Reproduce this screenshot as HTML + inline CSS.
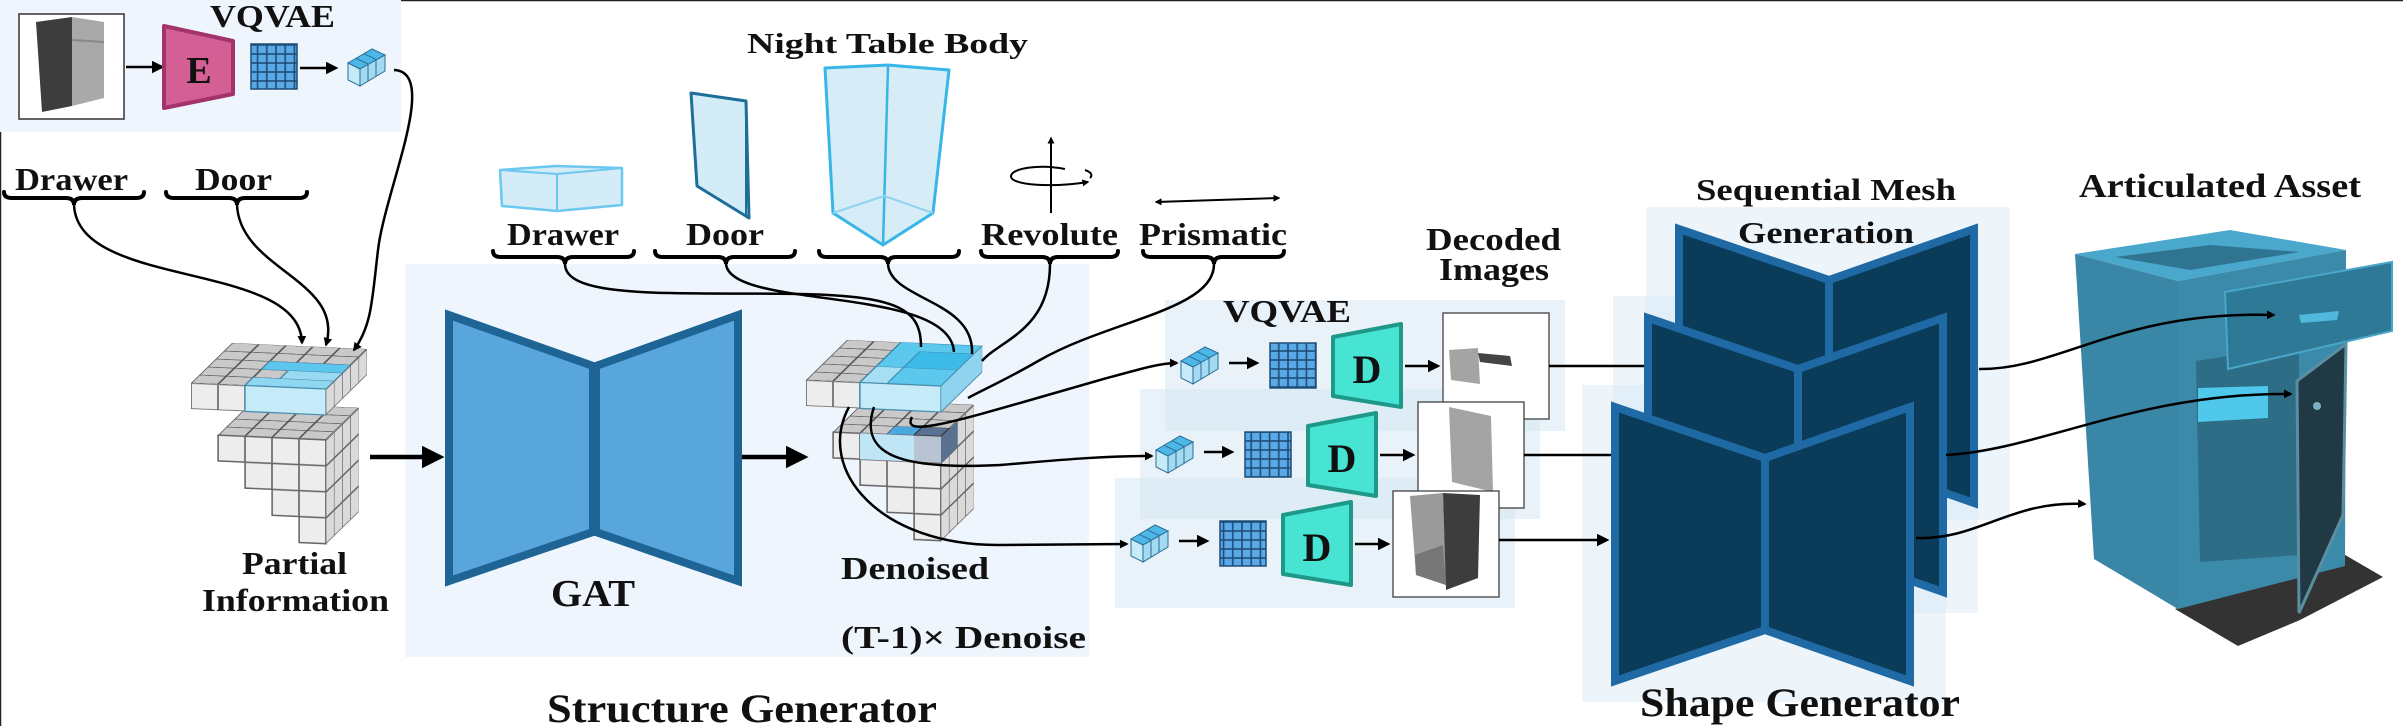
<!DOCTYPE html>
<html><head><meta charset="utf-8"><style>
html,body{margin:0;padding:0;background:#fff;}
svg{display:block;font-family:"Liberation Serif","DejaVu Serif",serif;}
svg text{font-family:"Liberation Serif","DejaVu Serif",serif;font-weight:bold;fill:#111;}
</style></head><body>
<svg width="2403" height="726" viewBox="0 0 2403 726" xmlns="http://www.w3.org/2000/svg" font-family="Liberation Serif, DejaVu Serif, serif" font-weight="bold">
<defs>
<marker id="ah" viewBox="0 0 10 10" refX="8" refY="5" markerWidth="5" markerHeight="5" orient="auto-start-reverse" markerUnits="strokeWidth"><path d="M0,0 L10,5 L0,10 z" fill="#000"/></marker>
<marker id="ah2" viewBox="0 0 10 10" refX="8" refY="5" markerWidth="3.5" markerHeight="3.5" orient="auto-start-reverse" markerUnits="strokeWidth"><path d="M0,0 L10,5 L0,10 z" fill="#000"/></marker>
<pattern id="gtop" width="1" height="1" patternUnits="userSpaceOnUse"><rect width="1" height="1" fill="#c9c9c9" stroke="#555" stroke-width="0.08"/></pattern>
<pattern id="gfront" width="1" height="1" patternUnits="userSpaceOnUse"><rect width="1" height="1" fill="#ededed" stroke="#666" stroke-width="0.06"/></pattern>
<pattern id="gside" width="1" height="1" patternUnits="userSpaceOnUse"><rect width="1" height="1" fill="#dadada" stroke="#666" stroke-width="0.08"/></pattern>
<pattern id="bgrid" width="9.2" height="9" patternUnits="userSpaceOnUse"><rect width="9.2" height="9" fill="#5aa9e6" stroke="#1d4d78" stroke-width="1.6"/></pattern>
<g id="token">
<polygon points="0,14 24,0 37,6 12,20" fill="#4db8e8" stroke="#2a6d96" stroke-width="1"/>
<polygon points="0,14 12,20 12,37 0,31" fill="#c6eaf7" stroke="#2a6d96" stroke-width="1"/>
<polygon points="12,20 37,6 37,22 12,37" fill="#a3daf1" stroke="#2a6d96" stroke-width="1"/>
<line x1="8" y1="9.3" x2="20" y2="15" stroke="#2a6d96" stroke-width="1"/>
<line x1="16" y1="4.7" x2="28" y2="10.4" stroke="#2a6d96" stroke-width="1"/>
<line x1="20" y1="15" x2="20" y2="32" stroke="#2a6d96" stroke-width="1"/>
<line x1="28" y1="10.4" x2="28" y2="27" stroke="#2a6d96" stroke-width="1"/>
</g>
</defs>

<line x1="0" y1="0.5" x2="2403" y2="0.5" stroke="#222" stroke-width="1.5"/>
<line x1="0.5" y1="0" x2="0.5" y2="726" stroke="#222" stroke-width="1.5"/>

<rect x="0" y="0" width="401" height="132" fill="#eef5fc"/>
<rect x="405" y="264" width="684" height="393" fill="#eef5fc"/>
<rect x="1165" y="300" width="400" height="131" fill="#d3e5f4" opacity="0.5"/>
<rect x="1140" y="389" width="400" height="130" fill="#d3e5f4" opacity="0.5"/>
<rect x="1115" y="478" width="400" height="130" fill="#d3e5f4" opacity="0.5"/>
<rect x="1646" y="207" width="364" height="313" fill="#d3e5f4" opacity="0.4"/>
<rect x="1613" y="296" width="365" height="317" fill="#d3e5f4" opacity="0.4"/>
<rect x="1582" y="385" width="364" height="317" fill="#d3e5f4" opacity="0.4"/>

<text x="210" y="27" font-size="32" textLength="125" lengthAdjust="spacingAndGlyphs">VQVAE</text>
<rect x="19" y="14" width="105" height="105" fill="#fff" stroke="#333" stroke-width="1.5"/>
<polygon points="36,22 72,17 72,106 42,112" fill="#3d3d3d"/>
<polygon points="72,17 104,22 104,98 72,106" fill="#a9a9a9"/>
<line x1="72" y1="40" x2="104" y2="42" stroke="#888" stroke-width="2"/>
<line x1="126" y1="67" x2="162" y2="67" stroke="#000" stroke-width="2.5" marker-end="url(#ah)"/>
<polygon points="164,26 233,41 233,94 164,108" fill="#d45f95" stroke="#a3336b" stroke-width="4" stroke-linejoin="round"/>
<text x="199" y="83" font-size="38" text-anchor="middle">E</text>
<rect x="251" y="44" width="46" height="45" fill="url(#bgrid)" stroke="#1d4d78" stroke-width="1.5"/>
<line x1="300" y1="68" x2="336" y2="68" stroke="#000" stroke-width="2.5" marker-end="url(#ah)"/>
<use href="#token" x="348" y="49"/>

<text x="15" y="190" font-size="32" textLength="113" lengthAdjust="spacingAndGlyphs">Drawer</text>
<text x="195" y="190" font-size="32" textLength="77" lengthAdjust="spacingAndGlyphs">Door</text>
<g fill="none" stroke="#000" stroke-width="4" stroke-linecap="round">
<path d="M4,192 Q4,198 12,198 L66,198 Q74,198 74,205 Q74,198 82,198 L136,198 Q144,198 144,192"/>
<path d="M166,192 Q166,198 174,198 L229,198 Q237,198 237,205 Q237,198 245,198 L299,198 Q307,198 307,192"/>
<path d="M493,251 Q493,257 501,257 L557,257 Q565,257 565,264 Q565,257 573,257 L626,257 Q634,257 634,251"/>
<path d="M655,251 Q655,257 663,257 L718,257 Q726,257 726,264 Q726,257 734,257 L787,257 Q795,257 795,251"/>
<path d="M819,251 Q819,257 827,257 L880,257 Q888,257 888,264 Q888,257 896,257 L951,257 Q959,257 959,251"/>
<path d="M981,251 Q981,257 989,257 L1042,257 Q1050,257 1050,264 Q1050,257 1058,257 L1110,257 Q1118,257 1118,251"/>
<path d="M1143,251 Q1143,257 1151,257 L1206,257 Q1214,257 1214,264 Q1214,257 1222,257 L1276,257 Q1284,257 1284,251"/>
</g>

<g>
<g transform="matrix(27,1.2,8.2,-8,218,435)"><rect x="0" y="0" width="4" height="4" fill="url(#gtop)"/></g>
<g transform="matrix(27,1.2,0,26,218,435)"><polygon points="0,0 4,0 4,4 3,4 3,3 2,3 2,2 1,2 1,1 0,1" fill="url(#gfront)" stroke="#666" stroke-width="0.05"/></g>
<g transform="matrix(8.2,-8,0,26,326,440)"><rect x="0" y="0" width="4" height="4" fill="url(#gside)"/></g>
<g transform="matrix(27,1.2,8.2,-8,191,383)"><rect x="0" y="0" width="5" height="5" fill="url(#gtop)"/>
<rect x="2" y="0" width="3" height="1" fill="#8fd6f1" stroke="#4a8fb0" stroke-width="0.06"/>
<rect x="2" y="2" width="3" height="1" fill="#5cc6ee" stroke="#4a8fb0" stroke-width="0.06"/>
<rect x="3" y="1" width="2" height="1" fill="#9ad9f2" stroke="#4a8fb0" stroke-width="0.06"/></g>
<g transform="matrix(27,1.2,0,26,191,383)"><rect x="0" y="0" width="5" height="1" fill="url(#gfront)"/>
<rect x="2" y="0" width="3" height="1" fill="#c4ebf7" stroke="#4a8fb0" stroke-width="0.05"/></g>
<g transform="matrix(8.2,-8,0,26,326,389)"><rect x="0" y="0" width="5" height="1" fill="url(#gside)"/></g>
</g>
<text x="242" y="574" font-size="32" textLength="105" lengthAdjust="spacingAndGlyphs">Partial</text>
<text x="202" y="611" font-size="32" textLength="187" lengthAdjust="spacingAndGlyphs">Information</text>

<g fill="none" stroke="#000" stroke-width="2.5">
<path d="M74,205 C78,290 300,260 302,343" marker-end="url(#ah2)"/>
<path d="M237,205 C240,270 345,280 326,345" marker-end="url(#ah2)"/>
<path d="M394,70 C440,72 385,190 378,250 C372,300 372,325 354,350" marker-end="url(#ah2)"/>
</g>

<line x1="370" y1="457" x2="440" y2="457" stroke="#000" stroke-width="4.5" marker-end="url(#ah)"/>
<line x1="742" y1="457" x2="804" y2="457" stroke="#000" stroke-width="4.5" marker-end="url(#ah)"/>

<polygon points="449,315 593,366 593,532 449,581" fill="#58a6dc" stroke="#1e6595" stroke-width="8"/>
<polygon points="596,366 738,315 738,581 596,532" fill="#58a6dc" stroke="#1e6595" stroke-width="8"/>
<text x="551" y="606" font-size="38" textLength="84" lengthAdjust="spacingAndGlyphs">GAT</text>

<g transform="translate(615,-3)">
<g transform="matrix(27,1.2,8.2,-8,218,435)"><rect x="0" y="0" width="4" height="4" fill="url(#gtop)"/>
<rect x="2" y="0" width="1" height="1" fill="#4aa8e0"/></g>
<g transform="matrix(27,1.2,0,26,218,435)"><polygon points="0,0 4,0 4,4 3,4 3,3 2,3 2,2 1,2 1,1 0,1" fill="url(#gfront)" stroke="#666" stroke-width="0.05"/>
<rect x="1" y="0" width="2" height="1" fill="#bfe6f6"/><rect x="3" y="0" width="1" height="1" fill="#b9c4d2"/></g>
<g transform="matrix(8.2,-8,0,26,326,440)"><rect x="0" y="0" width="4" height="4" fill="url(#gside)"/>
<rect x="0" y="0" width="2" height="1" fill="#5b7191"/></g>
<g transform="matrix(27,1.2,8.2,-8,299,438)"><rect x="0" y="0" width="1" height="1" fill="#5b7191" stroke="#333" stroke-width="0.06"/></g>
<g transform="matrix(27,1.2,8.2,-8,191,383)"><rect x="0" y="0" width="5" height="5" fill="url(#gtop)"/>
<rect x="2" y="0" width="3" height="5" fill="#5cc8ee" stroke="#3c8db5" stroke-width="0.06"/>
<rect x="2" y="0" width="1" height="2" fill="#a6def4" stroke="#3c8db5" stroke-width="0.06"/>
<rect x="3" y="2" width="2" height="2" fill="#3dbbe8" stroke="#3c8db5" stroke-width="0.06"/></g>
<g transform="matrix(27,1.2,0,26,191,383)"><rect x="0" y="0" width="5" height="1" fill="url(#gfront)"/>
<rect x="2" y="0" width="3" height="1" fill="#c4ebf7" stroke="#4a8fb0" stroke-width="0.05"/></g>
<g transform="matrix(8.2,-8,0,26,326,389)"><rect x="0" y="0" width="5" height="1" fill="#8fd3ef" stroke="#4a8fb0" stroke-width="0.05"/></g>
</g>
<text x="841" y="579" font-size="32" textLength="148" lengthAdjust="spacingAndGlyphs">Denoised</text>
<text x="841" y="648" font-size="32" textLength="245" lengthAdjust="spacingAndGlyphs">(T-1)× Denoise</text>
<text x="547" y="722" font-size="40" textLength="390" lengthAdjust="spacingAndGlyphs">Structure Generator</text>

<text x="747" y="53" font-size="28" textLength="281" lengthAdjust="spacingAndGlyphs">Night Table Body</text>
<g stroke-linejoin="round">
<polygon points="500,170 556,166 622,168 622,205 557,211 502,206" fill="#d3ecf8" stroke="#6cc8ee" stroke-width="2.5"/>
<polyline points="500,170 557,174 622,168" fill="none" stroke="#6cc8ee" stroke-width="2"/>
<line x1="557" y1="174" x2="557" y2="211" stroke="#6cc8ee" stroke-width="2"/>
<polygon points="691,93 746,101 749,218 697,186" fill="#d3ecf8" stroke="#1d6f99" stroke-width="3"/>
<line x1="746" y1="101" x2="746" y2="216" stroke="#1d6f99" stroke-width="2"/>
<polygon points="825,68 888,65 949,70 933,213 883,245 833,213" fill="#d6ecf7" stroke="#38b6e8" stroke-width="3"/>
<line x1="888" y1="66" x2="883" y2="245" stroke="#38b6e8" stroke-width="2.5"/>
<polyline points="833,213 884,196 933,213" fill="none" stroke="#8fd3ef" stroke-width="2"/>
</g>
<line x1="1051" y1="213" x2="1051" y2="138" stroke="#000" stroke-width="2" marker-end="url(#ah2)"/>
<path d="M1065,169 C1040,164 1012,168 1011,176 C1010,185 1050,188 1088,182" fill="none" stroke="#000" stroke-width="2" marker-end="url(#ah2)"/>
<path d="M1085,170 C1091,172 1093,175 1090,178" fill="none" stroke="#000" stroke-width="2"/>
<line x1="1156" y1="202" x2="1279" y2="198" stroke="#000" stroke-width="2" marker-start="url(#ah2)" marker-end="url(#ah2)"/>

<text x="507" y="245" font-size="32" textLength="112" lengthAdjust="spacingAndGlyphs">Drawer</text>
<text x="686" y="245" font-size="32" textLength="78" lengthAdjust="spacingAndGlyphs">Door</text>
<text x="981" y="245" font-size="32" textLength="137" lengthAdjust="spacingAndGlyphs">Revolute</text>
<text x="1139" y="245" font-size="32" textLength="148" lengthAdjust="spacingAndGlyphs">Prismatic</text>

<g fill="none" stroke="#000" stroke-width="2.5">
<path d="M565,264 C565,300 680,292 800,294 C900,296 921,310 921,347"/>
<path d="M726,264 C730,310 950,285 954,352"/>
<path d="M888,264 C890,300 975,300 972,354"/>
<path d="M1050,264 C1050,330 1000,340 982,361"/>
<path d="M1214,264 C1214,310 1110,320 1040,360 C1000,383 978,392 968,398"/>
<path d="M912,417 C900,440 960,420 1100,380 C1140,369 1160,363 1177,363" marker-end="url(#ah2)"/>
<path d="M874,407 C858,455 900,470 1000,465 C1060,460 1100,456 1152,456" marker-end="url(#ah2)"/>
<path d="M849,407 C815,470 880,546 1000,545 L1127,544" marker-end="url(#ah2)"/>
</g>

<text x="1223" y="322" font-size="32" textLength="128" lengthAdjust="spacingAndGlyphs">VQVAE</text>
<text x="1426" y="250" font-size="32" textLength="135" lengthAdjust="spacingAndGlyphs">Decoded</text>
<text x="1439" y="280" font-size="32" textLength="110" lengthAdjust="spacingAndGlyphs">Images</text>

<g>
<use href="#token" x="1181" y="347"/>
<line x1="1229" y1="363" x2="1257" y2="363" stroke="#000" stroke-width="2.5" marker-end="url(#ah)"/>
<rect x="1270" y="343" width="46" height="45" fill="url(#bgrid)" stroke="#1d4d78" stroke-width="1.5"/>
<polygon points="1333,337 1401,324 1401,407 1333,396" fill="#47e3d3" stroke="#1e9888" stroke-width="4" stroke-linejoin="round"/>
<text x="1367" y="383" font-size="40" text-anchor="middle">D</text>
<line x1="1405" y1="366" x2="1438" y2="366" stroke="#000" stroke-width="2.5" marker-end="url(#ah)"/>
<rect x="1443" y="313" width="106" height="106" fill="#fff" stroke="#333" stroke-width="1.2"/>
<polygon points="1449,350 1478,348 1480,384 1451,380" fill="#a4a4a4"/>
<polygon points="1478,353 1510,356 1512,366 1480,362" fill="#444"/>
<line x1="1549" y1="366" x2="1648" y2="366" stroke="#000" stroke-width="2.5"/>
</g>
<g>
<use href="#token" x="1156" y="436"/>
<line x1="1204" y1="452" x2="1232" y2="452" stroke="#000" stroke-width="2.5" marker-end="url(#ah)"/>
<rect x="1245" y="432" width="46" height="45" fill="url(#bgrid)" stroke="#1d4d78" stroke-width="1.5"/>
<polygon points="1308,426 1376,413 1376,496 1308,485" fill="#47e3d3" stroke="#1e9888" stroke-width="4" stroke-linejoin="round"/>
<text x="1342" y="472" font-size="40" text-anchor="middle">D</text>
<line x1="1380" y1="455" x2="1413" y2="455" stroke="#000" stroke-width="2.5" marker-end="url(#ah)"/>
<rect x="1418" y="402" width="106" height="106" fill="#fff" stroke="#333" stroke-width="1.2"/>
<polygon points="1449,407 1491,416 1493,492 1452,482" fill="#a4a4a4"/>
<line x1="1524" y1="455" x2="1615" y2="455" stroke="#000" stroke-width="2.5"/>
</g>
<g>
<use href="#token" x="1131" y="525"/>
<line x1="1179" y1="541" x2="1207" y2="541" stroke="#000" stroke-width="2.5" marker-end="url(#ah)"/>
<rect x="1220" y="521" width="46" height="45" fill="url(#bgrid)" stroke="#1d4d78" stroke-width="1.5"/>
<polygon points="1283,515 1351,502 1351,585 1283,574" fill="#47e3d3" stroke="#1e9888" stroke-width="4" stroke-linejoin="round"/>
<text x="1317" y="561" font-size="40" text-anchor="middle">D</text>
<line x1="1355" y1="544" x2="1388" y2="544" stroke="#000" stroke-width="2.5" marker-end="url(#ah)"/>
<rect x="1393" y="491" width="106" height="106" fill="#fff" stroke="#333" stroke-width="1.2"/>
<polygon points="1410,496 1443,493 1446,585 1416,575" fill="#9a9a9a"/>
<polygon points="1443,493 1480,495 1478,578 1446,590" fill="#3d3d3d"/>
<polygon points="1415,555 1443,545 1446,585 1416,575" fill="#777"/>
<line x1="1499" y1="540" x2="1607" y2="540" stroke="#000" stroke-width="2.5" marker-end="url(#ah)"/>
</g>

<g stroke="#1f6aa5" stroke-width="8" fill="#0a3c5a">
<g transform="translate(64,-178)">
<polygon points="1615,407 1765,458 1765,630 1615,681"/><polygon points="1765,458 1910,407 1910,681 1765,630"/>
</g>
<g transform="translate(33,-89)">
<polygon points="1615,407 1765,458 1765,630 1615,681"/><polygon points="1765,458 1910,407 1910,681 1765,630"/>
</g>
<polygon points="1615,407 1765,458 1765,630 1615,681"/><polygon points="1765,458 1910,407 1910,681 1765,630"/>
</g>
<text x="1696" y="200" font-size="31" textLength="260" lengthAdjust="spacingAndGlyphs">Sequential Mesh</text>
<text x="1738" y="243" font-size="31" textLength="176" lengthAdjust="spacingAndGlyphs">Generation</text>
<text x="1640" y="716" font-size="40" textLength="320" lengthAdjust="spacingAndGlyphs">Shape Generator</text>
<text x="2079" y="197" font-size="34" textLength="282" lengthAdjust="spacingAndGlyphs">Articulated Asset</text>

<polygon points="2175,609 2340,552 2383,577 2300,620 2238,646" fill="#333"/>
<polygon points="2075,254 2230,230 2346,250 2178,281" fill="#4aa8cc"/>
<polygon points="2115,257 2210,245 2300,252 2190,270" fill="#2f7592"/>
<polygon points="2075,254 2178,281 2178,609 2094,559" fill="#3a86a6"/>
<polygon points="2178,281 2346,250 2345,566 2178,609" fill="#3b8aaa"/>
<polygon points="2196,361 2299,345 2299,555 2200,562" fill="#2e6d86"/>
<polygon points="2198,388 2268,386 2268,418 2198,422" fill="#4fc8ec"/>
<polygon points="2225,292 2392,262 2392,331 2228,369" fill="#2e7a96" stroke="#4aa6c8" stroke-width="2"/>
<polygon points="2299,315 2339,311 2337,320 2301,323" fill="#4fb8dc"/>
<polygon points="2297,381 2346,344 2343,515 2299,613" fill="#213845" stroke="#5a8ea0" stroke-width="3"/>
<circle cx="2317" cy="406" r="4" fill="#7ab0c4"/>

<g fill="none" stroke="#000" stroke-width="2.5">
<path d="M1979,369 C2060,370 2120,310 2274,315" marker-end="url(#ah2)"/>
<path d="M1946,455 C2040,450 2140,392 2291,394" marker-end="url(#ah2)"/>
<path d="M1916,538 C1980,540 2010,500 2085,504" marker-end="url(#ah2)"/>
</g>
</svg>
</body></html>
